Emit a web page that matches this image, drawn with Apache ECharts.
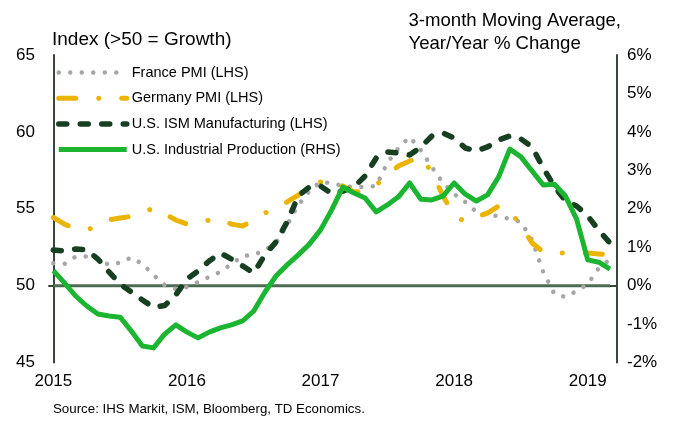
<!DOCTYPE html>
<html>
<head>
<meta charset="utf-8">
<script src="https://cdn.jsdelivr.net/npm/echarts@6/dist/echarts.min.js"></script>
<style>
    html, body { margin: 0; padding: 0; background: #fff; }
</style>
</head>
<body>
<div id="echarts" style="width: 673px; height: 421px"></div>
<script>
    // monthly, Jan 2015 .. Mar 2019 (index 0..50)
    const yearLabels = ['2015', '2016', '2017', '2018', '2019']
    const yearTicks = [0, 12, 24, 36, 48]

    const francePMI = [
        51.45, 51.41, 51.88, 51.9, 51.78, 51.34, 51.49, 51.83, 51.41, 50.69,
        50.04, 49.78, 49.91, 50.24, 50.56, 50.89, 51.41, 51.93, 51.99, 52.32,
        52.77, 53.94, 55.24, 56.15, 56.74, 56.67, 56.48, 56.41, 56.41, 56.48,
        57.98, 58.95, 59.67, 58.82, 57.72, 56.67, 55.96, 55.44, 54.79, 54.59,
        54.53, 54.33, 54.14, 52.97, 50.89, 49.46, 49.26, 49.65, 50.1, 51.15, 51.7
    ]
    const germanyPMI = [
        54.43, 54.0, 53.68, 53.62, 53.88, 54.27, 54.4, 54.5, 54.72, 55.05,
        54.66, 54.27, 54.0, 54.0, 54.27, 54.33, 54.0, 53.88, 54.27, 54.72,
        55.05, 55.44, 55.89, 56.48, 56.74, 56.8, 56.48, 56.09, 56.15, 56.54,
        57.2, 57.78, 58.11, 58.37, 57.39, 55.83, 54.59, 54.14, 54.46, 54.72,
        55.18, 54.79, 53.94, 52.77, 52.19, 52.12, 52.12, 52.12, 52.12, 52.06, 52.0
    ]
    const usISM = [
        52.32, 52.25, 52.38, 52.32, 51.73, 50.89, 50.1, 49.59, 49.07, 48.58,
        48.71, 49.39, 50.43, 50.95, 51.6, 52.12, 51.73, 51.28, 50.82, 51.99,
        52.84, 54.14, 55.83, 56.41, 56.48, 55.98, 56.15, 56.41, 57.13, 58.3,
        58.69, 58.63, 58.5, 59.0, 59.73, 59.93, 59.6, 58.95, 58.76, 59.02,
        59.47, 59.73, 59.54, 59.02, 57.65, 56.48, 55.5, 55.18, 54.53, 53.6, 52.77
    ]
    const usIP = [
        0.39, 0.07, -0.27, -0.53, -0.74, -0.79, -0.82, -1.18, -1.57, -1.62,
        -1.26, -1.02, -1.21, -1.36, -1.21, -1.10, -1.02, -0.92, -0.66, -0.17,
        0.25, 0.54, 0.80, 1.08, 1.45, 1.97, 2.56, 2.41, 2.28, 1.92,
        2.10, 2.31, 2.67, 2.25, 2.23, 2.33, 2.67, 2.38, 2.20, 2.36,
        2.83, 3.55, 3.35, 2.98, 2.62, 2.64, 2.33, 1.73, 0.67, 0.61, 0.43
    ]
    const growthLine = 50

    const font = '"Liberation Sans", Arial, sans-serif'

    function pairs(arr) {
        return arr.map((v, i) => [i, v])
    }

    var myChart = echarts.init(document.getElementById('echarts'))
    const colors = {
        france: '#a6a6a6',
        germany: '#ebb400',
        ism: '#173f22',
        ip: '#1bb531',
        growth: '#4d6b53'
    }
    const axisColor = '#3a453a'

    let option = {
        animation: false,
        grid: {
            left: 49,
            right: 56,
            top: 55,
            bottom: 58.5
        },
        legend: {
            orient: 'vertical',
            left: 51,
            top: 60,
            itemWidth: 68,
            itemHeight: 14,
            itemGap: 10.7,
            data: ['France PMI (LHS)', 'Germany PMI (LHS)', 'U.S. ISM Manufacturing (LHS)', 'U.S. Industrial Production (RHS)'],
            itemStyle: { opacity: 0 },
            lineStyle: { width: 'inherit' },
            textStyle: { fontFamily: font, fontSize: 14.5, lineHeight: 14, color: '#000' }
        },
        graphic: [
            {
                type: 'text', left: 52, top: 30,
                style: { text: 'Index (>50 = Growth)', font: '19px ' + font, fill: '#000' }
            },
            {
                type: 'text', right: 52, top: 9,
                style: { text: '3-month Moving Average,\nYear/Year % Change', font: '18.6px ' + font, fill: '#000', align: 'right', lineHeight: 23 }
            },
            {
                type: 'text', left: 53, top: 403,
                style: { text: 'Source: IHS Markit, ISM, Bloomberg, TD Economics.', font: '13.3px ' + font, fill: '#000' }
            }
        ],
        xAxis: {
            type: 'value',
            min: -0.39,
            max: 50.63,
            splitLine: { show: false },
            axisTick: { show: false },
            axisLine: { show: true, lineStyle: { color: axisColor, width: 2 } },
            axisLabel: {
                customValues: yearTicks,
                formatter: (v) => yearLabels[yearTicks.indexOf(v)],
                margin: 10,
                fontFamily: font,
                fontSize: 17,
                color: '#000'
            }
        },
        yAxis: [
            {
                type: 'value',
                min: 45,
                max: 65,
                interval: 5,
                position: 'left',
                splitLine: { show: false },
                axisTick: { show: false },
                axisLine: { show: true, lineStyle: { color: axisColor, width: 2 } },
                axisLabel: { margin: 14, fontFamily: font, fontSize: 17, color: '#000' }
            },
            {
                type: 'value',
                min: -2,
                max: 6,
                interval: 1,
                position: 'right',
                splitLine: { show: false },
                axisTick: { show: false },
                axisLine: { show: true, lineStyle: { color: axisColor, width: 2 } },
                axisLabel: { margin: 10, formatter: '{value}%', fontFamily: font, fontSize: 17, color: '#000' }
            }
        ],
        series: [
            {
                name: 'growth',
                type: 'line',
                symbol: 'none',
                silent: true,
                data: [[0, growthLine], [francePMI.length - 1, growthLine]],
                itemStyle: { color: colors.growth },
                lineStyle: { color: colors.growth, width: 3 },
                z: 1
            },
            {
                name: 'France PMI (LHS)',
                type: 'line',
                symbol: 'none',
                data: pairs(francePMI),
                itemStyle: { color: colors.france },
                lineStyle: { color: colors.france, width: 4.5, type: [0.01, 11.5], cap: 'round', join: 'round' },
                z: 2
            },
            {
                name: 'Germany PMI (LHS)',
                type: 'line',
                symbol: 'none',
                data: pairs(germanyPMI),
                itemStyle: { color: colors.germany },
                lineStyle: { color: colors.germany, width: 5, type: [17, 23, 0.01, 23], cap: 'round', join: 'round' },
                z: 3
            },
            {
                name: 'U.S. ISM Manufacturing (LHS)',
                type: 'line',
                symbol: 'none',
                data: pairs(usISM),
                itemStyle: { color: colors.ism },
                lineStyle: { color: colors.ism, width: 5.5, type: [8, 13.5], cap: 'round', join: 'round' },
                z: 4
            },
            {
                name: 'U.S. Industrial Production (RHS)',
                type: 'line',
                symbol: 'none',
                yAxisIndex: 1,
                data: pairs(usIP),
                itemStyle: { color: colors.ip },
                lineStyle: { color: colors.ip, width: 5, join: 'round' },
                z: 5
            }
        ]
    }
    myChart.setOption(option)
</script>
</body>
</html>
